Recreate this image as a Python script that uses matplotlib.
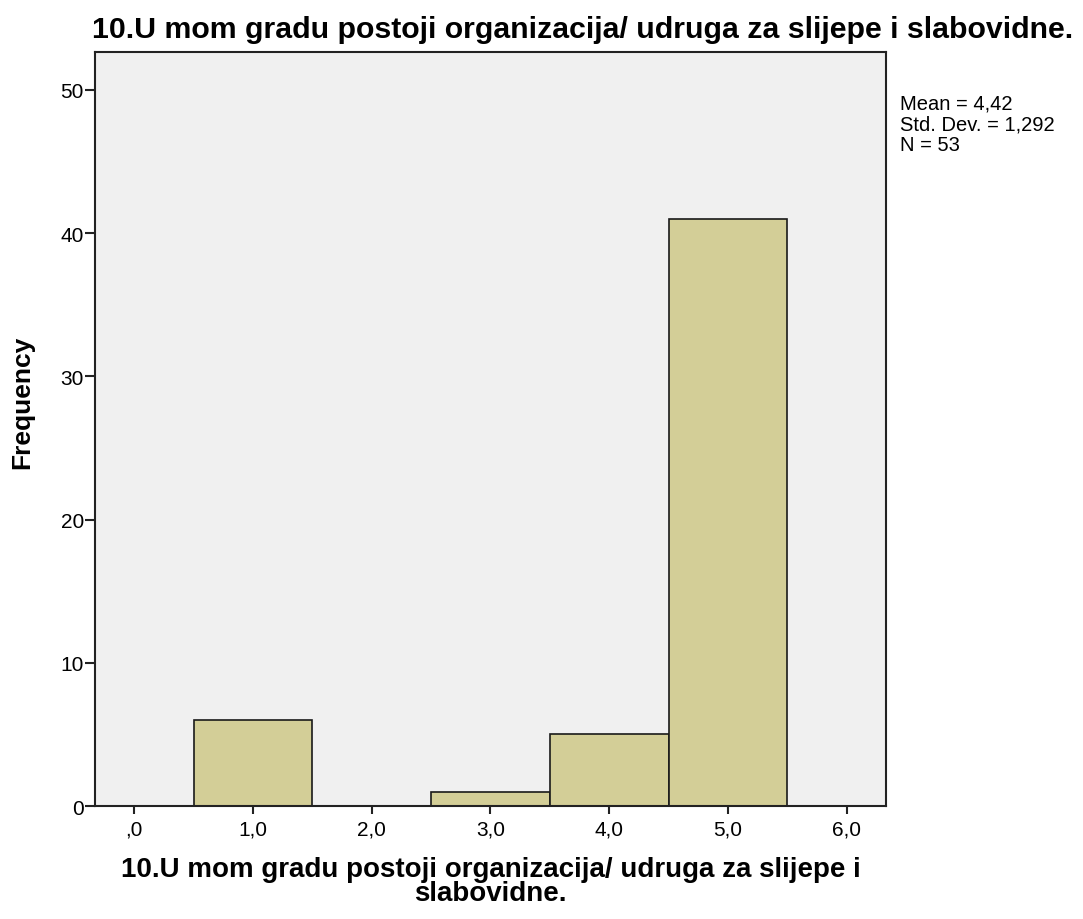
import numpy as np
import matplotlib
matplotlib.use('Agg')
import matplotlib.pyplot as plt

plt.rcParams['font.family'] = ['Liberation Sans', 'DejaVu Sans']

# histogram bins (centres) and counts
bin_centers = [1.0, 2.0, 3.0, 4.0, 5.0]
counts = [6, 0, 1, 5, 41]
x_ticks = [0, 1, 2, 3, 4, 5, 6]
x_ticklabels = [',0', '1,0', '2,0', '3,0', '4,0', '5,0', '6,0']
y_ticks = [0, 10, 20, 30, 40, 50]
stats_text = 'Mean = 4,42\nStd. Dev. = 1,292\nN = 53'
title = '10.U mom gradu postoji organizacija/ udruga za slijepe i slabovidne.'
xlabel = '10.U mom gradu postoji organizacija/ udruga za slijepe i\nslabovidne.'

fig = plt.figure(figsize=(10.83, 9.2), dpi=100, facecolor='white')
ax = fig.add_axes([0.0877, 0.1228, 0.7303, 0.8196])
ax.set_facecolor('#f0f0f0')

ax.bar(bin_centers, counts, width=1.0, color='#d3ce97', edgecolor='#1a1a1a',
       linewidth=1.2, zorder=2)

ax.set_xlim(-0.33, 6.33)
ax.set_ylim(0, 52.65)
ax.set_xticks(x_ticks)
ax.set_xticklabels(x_ticklabels, fontsize=15)
ax.set_yticks(y_ticks)
ax.set_yticklabels([str(v) for v in y_ticks], fontsize=15)
ax.tick_params(axis='both', direction='out', width=1.5, color='#222')
ax.tick_params(axis='x', length=6, pad=4)
ax.tick_params(axis='y', length=7, pad=1)
for s in ax.spines.values():
    s.set_color('#222')
    s.set_linewidth(1.5)

ax.set_ylabel('Frequency', fontsize=19, fontweight='bold')
ax.yaxis.set_label_coords(-0.077, 0.536)
ax.set_xlabel(xlabel, fontsize=20, fontweight='bold', linespacing=0.93)
ax.xaxis.set_label_coords(0.5, -0.066)
fig.text(0.538, 0.9587, title, ha='center', va='baseline',
         fontsize=21.8, fontweight='bold')
fig.text(0.831, 0.897, stats_text, ha='left', va='top', fontsize=14.5,
         linespacing=1.12)

fig.savefig('out.png', dpi=100)
